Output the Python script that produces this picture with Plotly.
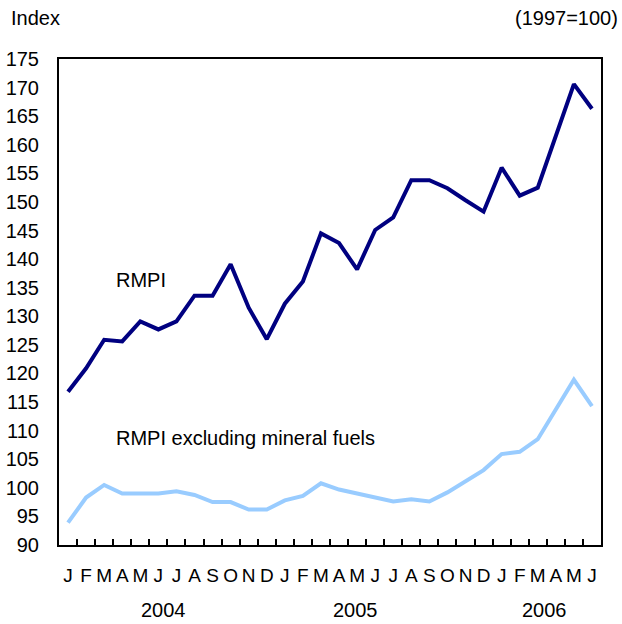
import plotly.graph_objects as go

months = ["J", "F", "M", "A", "M", "J", "J", "A", "S", "O", "N", "D",
          "J", "F", "M", "A", "M", "J", "J", "A", "S", "O", "N", "D",
          "J", "F", "M", "A", "M", "J"]
periods = [f"{y}-{m:02d}" for y in (2004, 2005, 2006) for m in range(1, 13)][:30]

rmpi = [116.8, 120.9, 125.9, 125.6, 129.1, 127.7, 129.1, 133.6, 133.6, 139.1,
        131.5, 126.0, 132.2, 136.1, 144.5, 142.8, 138.2, 145.1, 147.3, 153.8,
        153.8, 152.4, 150.3, 148.3, 156.0, 151.1, 152.5, 161.5, 170.6, 166.3]
rmpi_ex = [93.9, 98.3, 100.5, 99.0, 99.0, 99.0, 99.4, 98.75, 97.5, 97.5,
           96.2, 96.2, 97.8, 98.6, 100.8, 99.7, 99.0, 98.3, 97.6, 98.0,
           97.6, 99.2, 101.1, 103.1, 105.9, 106.3, 108.5, 113.7, 118.9, 114.3]

years = ["2004", "2005", "2006"]
year_pos = [5.3, 15.9, 26.4]
y_ticks = list(range(90, 176, 5))

font = "Liberation Sans, Arial, sans-serif"

fig = go.Figure()
fig.add_trace(go.Scatter(x=periods, y=rmpi, mode="lines",
                         line=dict(color="#000080", width=4), showlegend=False))
fig.add_trace(go.Scatter(x=periods, y=rmpi_ex, mode="lines",
                         line=dict(color="#99CCFF", width=4), showlegend=False))

fig.update_layout(
    width=622, height=624,
    margin=dict(l=59, r=21, t=59, b=79, autoexpand=False),
    paper_bgcolor="white", plot_bgcolor="white",
    font=dict(family=font, size=20, color="black"),
    xaxis=dict(type="category", categoryorder="array", categoryarray=periods,
               tickvals=periods, ticktext=months, tickson="boundaries",
               ticks="inside", ticklen=6, tickwidth=1.5, tickcolor="black",
               showline=True, linecolor="black", linewidth=2, mirror=True,
               showgrid=False, zeroline=False, ticklabelstandoff=12,
               tickangle=0, automargin=False,
               tickfont=dict(family="Liberation Sans Narrow, Liberation Sans, Arial", size=19),
               range=[-0.5, 29.5]),
    yaxis=dict(range=[90, 175], tickvals=y_ticks, ticks="", showgrid=False,
               showline=True, linecolor="black", linewidth=2, mirror=True,
               zeroline=False, ticklabelstandoff=14, automargin=False),
)

fig.add_annotation(text="Index", xref="paper", yref="paper", x=-50/542, y=1 + 41/486,
                   xanchor="left", yanchor="middle", showarrow=False)
fig.add_annotation(text="(1997=100)", xref="paper", yref="paper", x=1 + 19/542, y=1 + 41/486,
                   xanchor="right", yanchor="middle", showarrow=False)
fig.add_annotation(text="RMPI", x=2.55, y=136.3, xanchor="left", yanchor="middle", showarrow=False)
fig.add_annotation(text="RMPI excluding mineral fuels", x=2.55, y=108.7, xanchor="left",
                   yanchor="middle", showarrow=False)
for yr, xp in zip(years, year_pos):
    fig.add_annotation(text=yr, x=xp, xref="x", yref="paper", y=-65/486,
                       xanchor="center", yanchor="middle", showarrow=False)

fig.write_html("out.html", config={"displayModeBar": False},
               post_script="document.body.style.margin='0';document.body.style.overflow='hidden';")
